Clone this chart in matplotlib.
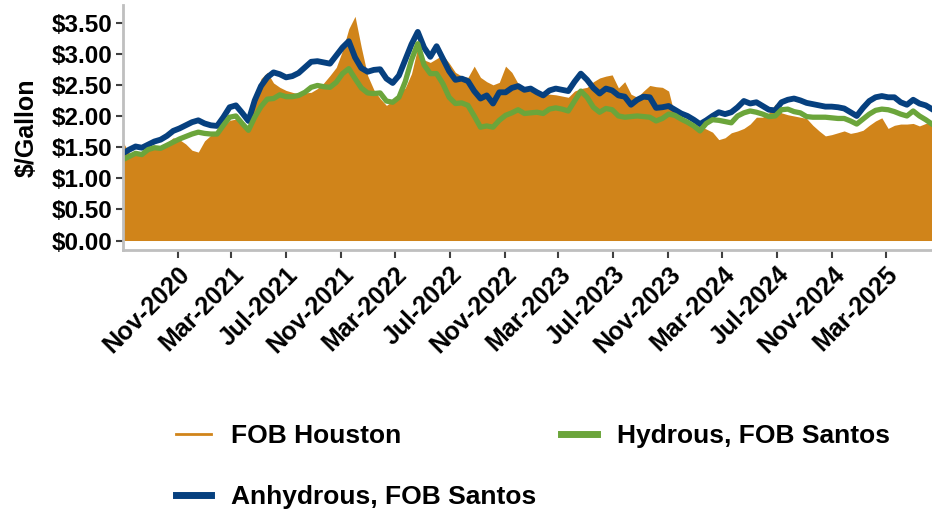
import numpy as np
import pandas as pd
import matplotlib
matplotlib.use('Agg')
import matplotlib.pyplot as plt
import matplotlib.dates as mdates
from matplotlib.lines import Line2D
from matplotlib.ticker import FuncFormatter
from matplotlib import font_manager

plt.rcParams['font.family'] = ['Liberation Sans', 'DejaVu Sans']
plt.rcParams['font.weight'] = 'bold'

# biweekly observations, Jul 2020 - Jun 2025 ($/gallon)
start_date = '2020-07-02'
n_obs = 130

fob_houston = [
    1.58, 1.40, 1.38, 1.43, 1.47, 1.50, 1.52, 1.57, 1.65, 1.62,
    1.55, 1.45, 1.42, 1.60, 1.69, 1.72, 1.83, 1.93, 1.95, 1.88,
    1.82, 2.27, 2.60, 2.70, 2.53, 2.46, 2.41, 2.38, 2.35, 2.37,
    2.38, 2.44, 2.53, 2.65, 2.78, 3.05, 3.40, 3.60, 3.10, 2.65,
    2.42, 2.28, 2.17, 2.24, 2.36, 2.45, 2.68, 3.10, 2.90, 2.86,
    2.92, 2.98, 2.85, 2.70, 2.64, 2.62, 2.80, 2.62, 2.55, 2.50,
    2.54, 2.80, 2.70, 2.52, 2.43, 2.40, 2.35, 2.33, 2.35, 2.34,
    2.32, 2.30, 2.40, 2.44, 2.46, 2.55, 2.61, 2.64, 2.66, 2.45,
    2.55, 2.35, 2.30, 2.40, 2.49, 2.47, 2.46, 2.40, 2.00, 1.96,
    1.90, 1.86, 1.83, 1.79, 1.74, 1.62, 1.65, 1.73, 1.76, 1.80,
    1.87, 1.98, 1.98, 2.05, 2.19, 2.05, 2.02, 2.00, 1.98, 1.96,
    1.85, 1.76, 1.68, 1.70, 1.73, 1.76, 1.72, 1.74, 1.77, 1.85,
    1.92, 1.97, 1.80, 1.85, 1.87, 1.87, 1.88, 1.84, 1.88, 1.90,
]

anhydrous_santos = [
    1.40, 1.46, 1.51, 1.49, 1.54, 1.59, 1.62, 1.68, 1.76, 1.80,
    1.85, 1.90, 1.93, 1.88, 1.85, 1.84, 1.98, 2.14, 2.17, 2.05,
    1.92, 2.25, 2.48, 2.62, 2.70, 2.67, 2.62, 2.64, 2.69, 2.78,
    2.87, 2.88, 2.86, 2.84, 2.97, 3.10, 3.20, 2.94, 2.77, 2.71,
    2.74, 2.75, 2.60, 2.53, 2.65, 2.90, 3.15, 3.35, 3.10, 2.95,
    3.12, 2.92, 2.72, 2.58, 2.60, 2.56, 2.40, 2.28, 2.33, 2.20,
    2.38, 2.38, 2.45, 2.48, 2.42, 2.44, 2.38, 2.33, 2.41, 2.44,
    2.42, 2.40, 2.55, 2.68, 2.58, 2.45, 2.36, 2.44, 2.41, 2.33,
    2.31, 2.18, 2.26, 2.31, 2.30, 2.13, 2.14, 2.16, 2.10, 2.04,
    2.00, 1.94, 1.87, 1.93, 2.00, 2.06, 2.03, 2.06, 2.14, 2.24,
    2.20, 2.22, 2.16, 2.10, 2.09, 2.22, 2.26, 2.28, 2.25, 2.21,
    2.19, 2.17, 2.15, 2.15, 2.14, 2.12, 2.06, 2.00, 2.13, 2.24,
    2.30, 2.32, 2.30, 2.30, 2.22, 2.18, 2.26, 2.20, 2.17, 2.11,
]

hydrous_santos = [
    1.30, 1.35, 1.40, 1.38, 1.46, 1.49, 1.48, 1.53, 1.58, 1.63,
    1.67, 1.71, 1.74, 1.72, 1.71, 1.71, 1.85, 1.98, 2.00, 1.88,
    1.77, 1.98, 2.15, 2.27, 2.28, 2.34, 2.31, 2.31, 2.33, 2.38,
    2.46, 2.49, 2.47, 2.46, 2.54, 2.68, 2.76, 2.60, 2.45, 2.37,
    2.36, 2.37, 2.24, 2.22, 2.30, 2.55, 2.90, 3.16, 2.82, 2.68,
    2.68, 2.52, 2.30, 2.20, 2.21, 2.17, 2.00, 1.82, 1.84, 1.82,
    1.93, 2.01, 2.05, 2.10, 2.04, 2.05, 2.06, 2.04, 2.11, 2.13,
    2.11, 2.08, 2.24, 2.40, 2.30, 2.14, 2.06, 2.12, 2.10, 2.00,
    1.98, 1.99, 2.00, 1.99, 1.98, 1.92, 1.96, 2.03, 2.01, 1.95,
    1.90, 1.84, 1.76, 1.88, 1.94, 1.93, 1.91, 1.89, 2.00, 2.05,
    2.08, 2.06, 2.03, 1.99, 2.00, 2.10, 2.11, 2.07, 2.05, 1.99,
    1.98, 1.98, 1.98, 1.97, 1.96, 1.96, 1.92, 1.87, 1.95, 2.03,
    2.09, 2.11, 2.10, 2.07, 2.03, 2.00, 2.08, 2.00, 1.94, 1.87,
]

y_ticks = [0.0, 0.5, 1.0, 1.5, 2.0, 2.5, 3.0, 3.5]

ORANGE = '#D0841A'
BLUE = '#06407F'
GREEN = '#6BA53B'

dates = pd.date_range(start_date, periods=n_obs, freq='14D')

fig = plt.figure(figsize=(9.32, 5.12), dpi=100)
ax = fig.add_axes([0.132, 0.512, 0.868, 0.478])

ax.fill_between(dates, 0, fob_houston, color=ORANGE, linewidth=0)
ax.plot(dates, anhydrous_santos, color=BLUE, lw=4.2, solid_joinstyle='round')
ax.plot(dates, hydrous_santos, color=GREEN, lw=3.8, solid_joinstyle='round')

ax.set_xlim(dates[0], dates[-1])
ax.set_ylim(-0.15, 3.78)
ax.set_yticks(y_ticks)
ax.yaxis.set_major_formatter(FuncFormatter(lambda v, p: '${:.2f}'.format(v)))
ax.set_ylabel('$/Gallon', fontsize=18, fontweight='bold', labelpad=9)

ax.xaxis.set_major_locator(mdates.MonthLocator(bymonth=[3, 7, 11]))
ax.xaxis.set_major_formatter(mdates.DateFormatter('%b-%Y'))
plt.setp(ax.get_xticklabels(), rotation=45, ha='right', rotation_mode='anchor')

ax.tick_params(axis='both', color='#404040', width=1.5, length=5)
ax.tick_params(axis='y', pad=3, labelsize=17.5)
ax.tick_params(axis='x', pad=3, length=6, labelsize=18)

for s in ['top', 'right']:
    ax.spines[s].set_visible(False)
for s in ['left', 'bottom']:
    ax.spines[s].set_color('#BFBFBF')
    ax.spines[s].set_linewidth(2)

# legend font is a condensed face in the reference
installed = {f.name for f in font_manager.fontManager.ttflist}
if 'Liberation Sans Narrow' in installed:
    leg_font = {'family': 'Liberation Sans Narrow', 'weight': 'bold', 'size': 22}
else:
    leg_font = {'family': 'Liberation Sans', 'weight': 'bold', 'size': 19}

handles = [
    Line2D([], [], color=ORANGE, lw=2),
    Line2D([], [], color=BLUE, lw=5),
    Line2D([], [], color=GREEN, lw=5),
]
labels = ['FOB Houston', 'Anhydrous, FOB Santos', 'Hydrous, FOB Santos']
fig.legend(handles, labels, ncol=2, loc='upper left', bbox_to_anchor=(0.177, 0.193),
           frameon=False, prop=leg_font, handlelength=1.35, handletextpad=0.75,
           columnspacing=0.95, labelspacing=1.42, borderaxespad=0)

fig.savefig('out.png', dpi=100)
